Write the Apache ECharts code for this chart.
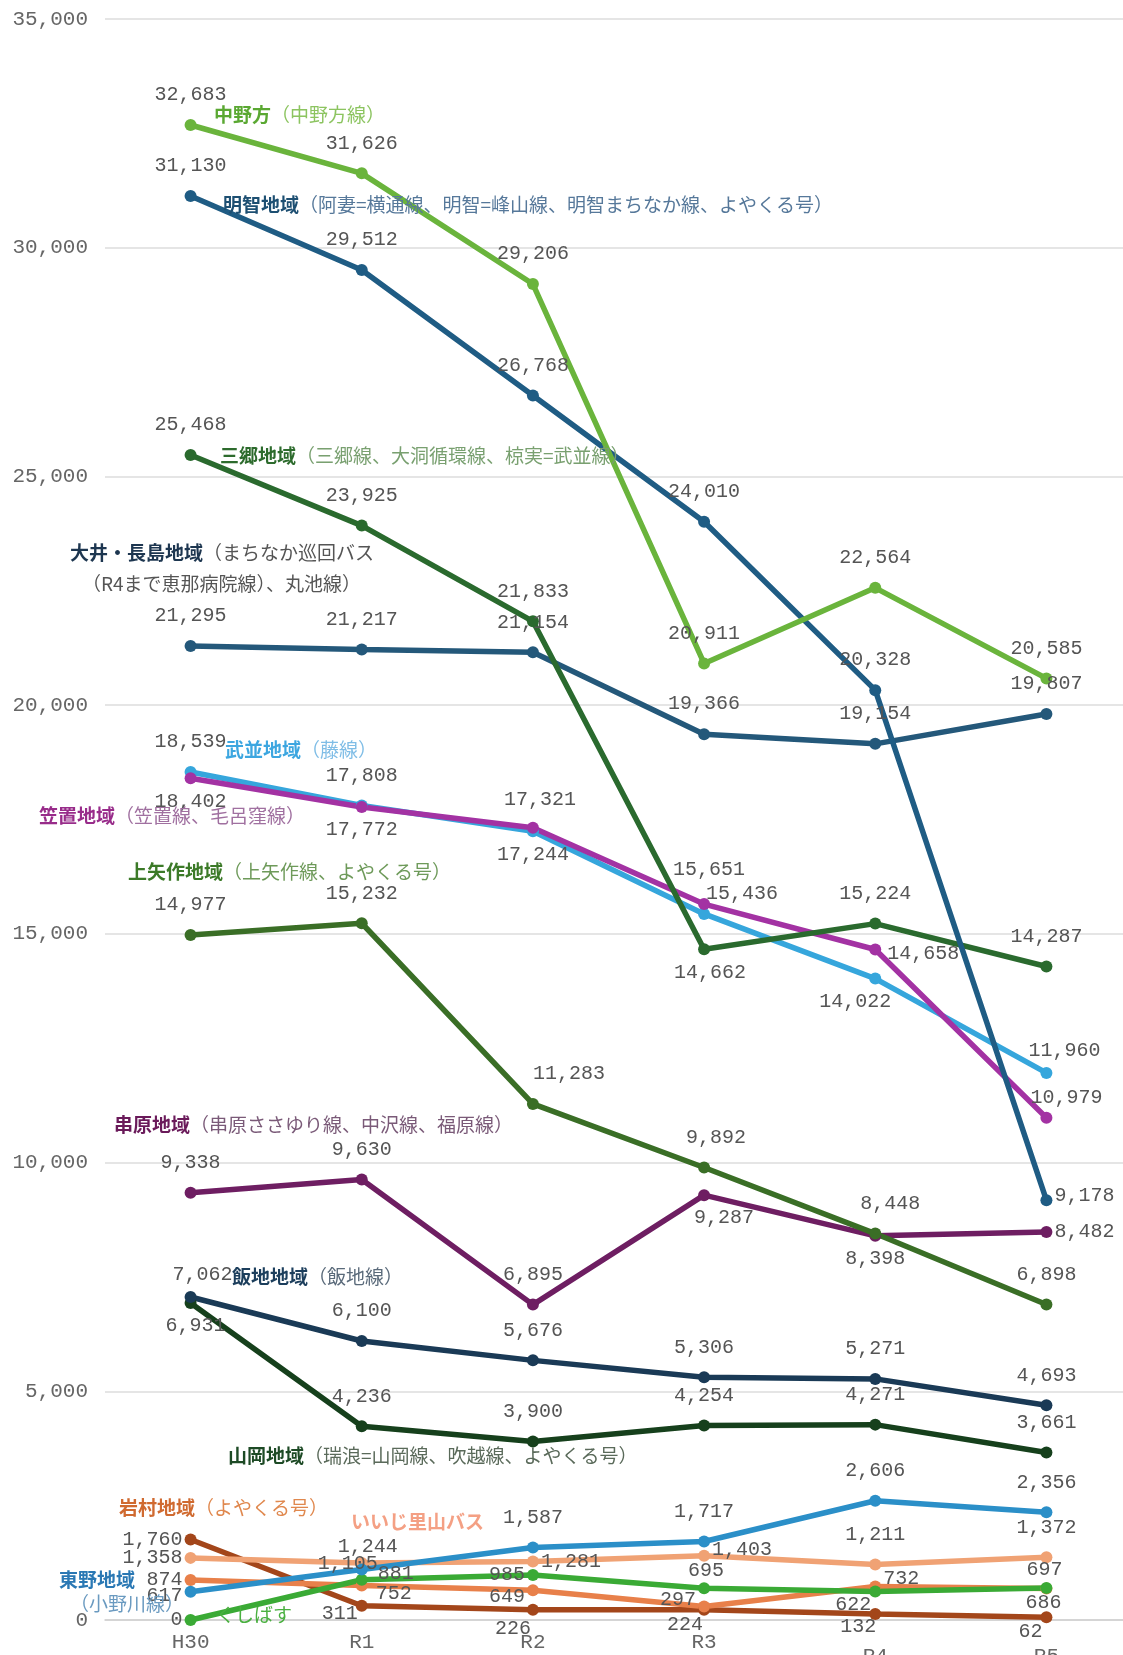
<!DOCTYPE html>
<html><head><meta charset="utf-8">
<script src="https://cdn.jsdelivr.net/npm/echarts@6/dist/echarts.min.js"></script>
<style>html,body{margin:0;padding:0;background:#fff}#c{width:1123px;height:1655px}</style>
</head><body><div id="c"></div>
<script>
// ---- data ----
const categories = ['H30','R1','R2','R3','R4','R5'];
const yTicks = [0,5000,10000,15000,20000,25000,30000,35000];
const nakanohou = [32683,31626,29206,20911,22564,20585];
const akechi = [31130,29512,26768,24010,20328,9178];
const misato = [25468,23925,21833,14662,15224,14287];
const ooiNagashima = [21295,21217,21154,19366,19154,19807];
const takenami = [18539,17808,17244,15436,14022,11960];
const kasagi = [18402,17772,17321,15651,14658,10979];
const kamiyahagi = [14977,15232,11283,9892,8448,6898];
const kushihara = [9338,9630,6895,9287,8398,8482];
const iiji = [7062,6100,5676,5306,5271,4693];
const yamaoka = [6931,4236,3900,4254,4271,3661];
const higashino = [617,1105,1587,1717,2606,2356];
const kushibasu = [0,881,985,695,622,697];
const iwamuraYoyakuru = [874,752,649,297,732,686];
const iijiSatoyama = [1358,1244,1281,1403,1211,1372];
const iwamura = [1760,311,226,224,132,62];

// ---- label placement (style, not data) ----
const P = {
  nakanohou:   [['t'],['t'],['t'],['t'],['t'],['t']],
  akechi:      [['t'],['t'],['t'],['t'],['t'],['r',0,-4]],
  misato:      [['t'],['t'],['t'],['b',6,0],['t'],['t']],
  ooi:         [['t'],['t'],['t'],['t'],['t'],['t']],
  takenami:    [['t'],['t'],['b'],['t',38,10],['b',-20,0],['t',18,8]],
  kasagi:      [['b'],['b'],['t',7,2],['t',5,-4],['r',4,4],['t',20,10]],
  kamiyahagi:  [['t'],['t'],['t',36,0],['t',12,0],['t',15,0],['t']],
  kushihara:   [['t'],['t'],['t'],['b',20,0],['b'],['r',0,0]],
  iiji:        [['t',12,8],['t'],['t'],['t'],['t'],['t']],
  yamaoka:     [['b',5,0],['t'],['t'],['t'],['t'],['t']],
  higashino:   [['l',0,4],['t',-14,24],['t'],['t'],['t'],['t']],
  kushibasu:   [['l'],['r',8,-6],['l',0,0],['t',2,12],['b',-22,-10],['t',-2,12]],
  iwamuraY:    [['l'],['r',6,8],['l',0,6],['l',0,-7],['r',0,-8],['b',-3,-9]],
  iijiS:       [['l'],['t',6,14],['r'],['r',0,-6],['t'],['t']],
  iwamura:     [['l'],['l',4,8],['b',-20,-4],['b',-19,-8],['b',-17,-10],['b',-16,-8]]
};

const seriesDefs = [
  {name:'岩村地域', data:iwamura, color:'#a3461a', pos:P.iwamura},
  {name:'岩村(よやくる号)', data:iwamuraYoyakuru, color:'#e8804a', pos:P.iwamuraY},
  {name:'いいじ里山バス', data:iijiSatoyama, color:'#f0a274', pos:P.iijiS},
  {name:'くしばす', data:kushibasu, color:'#3aaa35', pos:P.kushibasu},
  {name:'東野地域', data:higashino, color:'#2b8fc8', pos:P.higashino},
  {name:'山岡地域', data:yamaoka, color:'#16401c', pos:P.yamaoka},
  {name:'飯地地域', data:iiji, color:'#1a3a56', pos:P.iiji},
  {name:'串原地域', data:kushihara, color:'#6e1e62', pos:P.kushihara},
  {name:'上矢作地域', data:kamiyahagi, color:'#3a6e26', pos:P.kamiyahagi},
  {name:'武並地域', data:takenami, color:'#36a6dc', pos:P.takenami},
  {name:'笠置地域', data:kasagi, color:'#a332a3', pos:P.kasagi},
  {name:'大井・長島地域', data:ooiNagashima, color:'#24587a', pos:P.ooi},
  {name:'三郷地域', data:misato, color:'#2a6a2e', pos:P.misato},
  {name:'明智地域', data:akechi, color:'#1f5c84', pos:P.akechi},
  {name:'中野方', data:nakanohou, color:'#6ab43c', pos:P.nakanohou}
];

const fmt = v => v.toString().replace(/\B(?=(\d{3})+(?!\d))/g, ',');
const posMap = {t:'top', b:'bottom', l:'left', r:'right'};
const distMap = {t:14, b:7, l:2, r:2};

const series = seriesDefs.map(s => ({
  name: s.name, type: 'line', symbol: 'circle', symbolSize: 12,
  lineStyle: {width: 5.5, color: s.color},
  itemStyle: {color: s.color},
  label: {show: true, fontFamily: 'Liberation Mono', fontSize: 20, color: '#555', formatter: p => fmt(p.value)},
  data: s.data.map((v, i) => {
    const p = s.pos[i];
    return {value: v, label: {show: true, position: posMap[p[0]], distance: distMap[p[0]], offset: [p[1]||0, p[2]||0]}};
  })
}));

// ---- area name annotations ----
const nameLabels = [
  {x:214, y:118, b:'中野方', p:'（中野方線）', cb:'#5aa832', cp:'#8cc460'},
  {x:223, y:208, b:'明智地域', p:'（阿妻=横通線、明智=峰山線、明智まちなか線、よやくる号）', cb:'#1d4f72', cp:'#56789a'},
  {x:220, y:459, b:'三郷地域', p:'（三郷線、大洞循環線、椋実=武並線）', cb:'#2d6b2d', cp:'#79a070'},
  {x:70, y:556, b:'大井・長島地域', p:'（まちなか巡回バス', cb:'#1d3650', cp:'#555'},
  {x:82, y:587, b:'', p:'（R4まで恵那病院線）、丸池線）', cb:'#1d3650', cp:'#555'},
  {x:225, y:753, b:'武並地域', p:'（藤線）', cb:'#3ca6e0', cp:'#7fbde6'},
  {x:39, y:819, b:'笠置地域', p:'（笠置線、毛呂窪線）', cb:'#982c8a', cp:'#a070a0'},
  {x:128, y:875, b:'上矢作地域', p:'（上矢作線、よやくる号）', cb:'#3c7a28', cp:'#6e9a5a'},
  {x:114, y:1128, b:'串原地域', p:'（串原ささゆり線、中沢線、福原線）', cb:'#6a1a5a', cp:'#7a5a78'},
  {x:232, y:1280, b:'飯地地域', p:'（飯地線）', cb:'#1c3e5c', cp:'#5a6a7a'},
  {x:228, y:1459, b:'山岡地域', p:'（瑞浪=山岡線、吹越線、よやくる号）', cb:'#1d4a25', cp:'#5a6a5a'},
  {x:119, y:1511, b:'岩村地域', p:'（よやくる号）', cb:'#d06a30', cp:'#e0884e'},
  {x:351, y:1525, b:'いいじ里山バス', p:'', cb:'#f4a084', cp:'#f4a084'},
  {x:59, y:1583, b:'東野地域', p:'', cb:'#2a78b4', cp:'#6a9ac0'},
  {x:70, y:1607, b:'', p:'（小野川線）', cb:'#2a78b4', cp:'#6a9ac0'},
  {x:216, y:1618, b:'', p:'くしばす', cb:'#4ab040', cp:'#4ab040'}
];
const graphic = nameLabels.map(l => ({
  type: 'text', left: l.x, top: l.y - 13, z: 100,
  style: {
    text: (l.b ? '{b|' + l.b + '}' : '') + (l.p ? '{p|' + l.p + '}' : ''),
    rich: {
      b: {fontFamily: 'Noto Sans CJK JP', fontWeight: 'bold', fontSize: 19, fill: l.cb, color: l.cb},
      p: {fontFamily: 'Noto Sans CJK JP', fontSize: 19, fill: l.cp, color: l.cp}
    }
  }
}));

const chart = echarts.init(document.getElementById('c'));
chart.setOption({
  animation: false,
  backgroundColor: '#fff',
  grid: {left: 105, right: -9, top: 19, bottom: 35, containLabel: false, outerBoundsMode: 'none'},
  xAxis: {
    type: 'category', data: categories, boundaryGap: true,
    axisLine: {lineStyle: {color: '#d0d0d0', width: 1.5}},
    axisTick: {show: false},
    axisLabel: {
      fontFamily: 'Liberation Mono', fontSize: 21, color: '#666', margin: 12,
      formatter: v => (v === 'R4' || v === 'R5') ? '{low|' + v + '}' : v,
      rich: {low: {fontFamily: 'Liberation Mono', fontSize: 21, color: '#666', padding: [14, 0, 0, 0]}}
    }
  },
  yAxis: {
    type: 'value', min: yTicks[0], max: yTicks[yTicks.length-1], interval: 5000,
    axisLine: {show: false}, axisTick: {show: false},
    splitLine: {lineStyle: {color: '#dcdcdc', width: 1.5}},
    axisLabel: {fontFamily: 'Liberation Mono', fontSize: 21, color: '#666', margin: 17, formatter: v => fmt(v)}
  },
  series: series,
  graphic: graphic
});
</script></body></html>
